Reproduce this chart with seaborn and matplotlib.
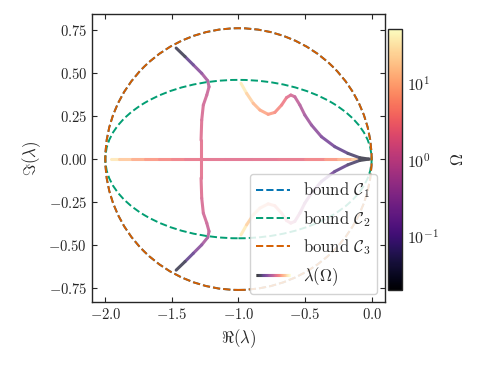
import numpy as np
import matplotlib
matplotlib.use("Agg")
import matplotlib.pyplot as plt
import seaborn as sns
from matplotlib.collections import LineCollection
from matplotlib.colors import LogNorm
from matplotlib.patches import Ellipse
from matplotlib.lines import Line2D
from matplotlib.legend_handler import HandlerBase

# eigenvalue branch leaving the real axis (upper half, conjugate below)
vert_re = [-1.281, -1.281, -1.276, -1.264, -1.238, -1.221, -1.231, -1.276, -1.339, -1.401, -1.468]
vert_im = [0.0, 0.110, 0.227, 0.314, 0.372, 0.420, 0.455, 0.498, 0.547, 0.595, 0.645]
vert_omega = [2.1, 1.9, 1.6, 1.35, 1.15, 0.95, 0.65, 0.35, 0.15, 0.06, 0.02]

# wavy branch ending at the origin (upper half, conjugate below)
arc_re = [-0.981, -0.939, -0.889, -0.839, -0.777, -0.727, -0.676, -0.639, -0.607, -0.577,
          -0.539, -0.502, -0.452, -0.377, -0.277, -0.178, -0.090, -0.020]
arc_im = [0.440, 0.382, 0.324, 0.285, 0.260, 0.271, 0.314, 0.357, 0.372, 0.362,
          0.314, 0.256, 0.198, 0.130, 0.072, 0.033, 0.008, 0.0]
arc_omega = [45, 25, 14, 9, 6.5, 5, 3.5, 2.3, 1.6, 1.1, 0.75, 0.5, 0.33, 0.2, 0.12, 0.07, 0.04, 0.022]

# real eigenvalues
realL_re = [-1.96, -1.90, -1.80, -1.70, -1.60, -1.50, -1.40, -1.281]
realL_omega = [45, 22, 11, 6.5, 4.5, 3.4, 2.7, 2.1]
realR_re = [-1.281, -1.10, -0.90, -0.70, -0.50, -0.35, -0.25, -0.15, -0.08, -0.01]
realR_omega = [2.1, 1.9, 1.9, 2.1, 2.6, 4, 7, 13, 22, 45]

# bounds: (centre, semi-axis re, semi-axis im)
bound_names = [r"bound $\mathcal{C}_1$", r"bound $\mathcal{C}_2$", r"bound $\mathcal{C}_3$"]
bound_center = [-1.0, -1.0, -1.0]
bound_a = [1.0, 1.0, 1.0]
bound_b = [0.76, 0.46, 0.76]

sns.set_style("ticks")
pal = sns.color_palette("colorblind")
bound_colors = [pal[0], pal[2], pal[3]]

plt.rcParams.update({
    "font.family": "serif",
    "font.serif": ["cmr10"],
    "mathtext.fontset": "cm",
    "axes.formatter.use_mathtext": True,
    "axes.unicode_minus": True,
    "font.size": 10.5,
    "xtick.direction": "in",
    "ytick.direction": "in",
    "xtick.top": True,
    "ytick.right": True,
    "axes.linewidth": 1.0,
})

cmap = plt.get_cmap("magma")
norm = LogNorm(vmin=0.02, vmax=50)
ALPHA = 0.7

fig = plt.figure(figsize=(4.85, 3.66), dpi=100)
ax = fig.add_axes([0.1897, 0.1749, 0.604, 0.787])
cax = fig.add_axes([0.800, 0.2077, 0.0289, 0.713])


def draw_branch(re, im, om):
    pts = np.column_stack([re, im]).reshape(-1, 1, 2)
    segs = np.concatenate([pts[:-1], pts[1:]], axis=1)
    om = np.asarray(om, float)
    c = np.sqrt(om[:-1] * om[1:])
    rgba = cmap(norm(c))
    # faded look without overlapping alpha at the joints
    rgba[:, :3] = ALPHA * rgba[:, :3] + (1 - ALPHA)
    lc = LineCollection(segs, colors=rgba, linewidths=2.2, capstyle="round", zorder=2)
    ax.add_collection(lc)


draw_branch(realL_re, np.zeros(len(realL_re)), realL_omega)
draw_branch(realR_re, np.zeros(len(realR_re)), realR_omega)
for re, im, om in [(vert_re, vert_im, vert_omega), (arc_re, arc_im, arc_omega)]:
    draw_branch(re, im, om)
    draw_branch(re, -np.asarray(im), om)

handles = []
for name, c0, a, b, col in zip(bound_names, bound_center, bound_a, bound_b, bound_colors):
    ax.add_patch(Ellipse((c0, 0), 2 * a, 2 * b, fill=False, ls="--", lw=1.4,
                         edgecolor=col, zorder=3))
    handles.append(Line2D([], [], color=col, ls="--", lw=1.4, label=name))


class GradientHandle:
    pass


class HandlerGradient(HandlerBase):
    def create_artists(self, legend, orig_handle, xdescent, ydescent, width, height,
                       fontsize, trans):
        xs = np.linspace(-xdescent, width - xdescent, 40)
        y = height / 2 - ydescent
        pts = np.column_stack([xs, np.full_like(xs, y)]).reshape(-1, 1, 2)
        segs = np.concatenate([pts[:-1], pts[1:]], axis=1)
        lc = LineCollection(segs, cmap=cmap, linewidths=2.2, transform=trans)
        lc.set_array(np.linspace(0, 1, len(segs)))
        return [lc]


grad = GradientHandle()
handles.append(grad)
labels = bound_names + [r"$\lambda(\Omega)$"]
leg = ax.legend(handles, labels, loc="lower right", handler_map={GradientHandle: HandlerGradient()},
                fontsize=12, framealpha=0.85, edgecolor="#cccccc", fancybox=True,
                borderaxespad=0.45)
leg.set_zorder(5)

ax.set_xlim(-2.1, 0.1)
ax.set_ylim(-0.83, 0.843)
ax.set_xticks([-2.0, -1.5, -1.0, -0.5, 0.0])
ax.set_yticks([-0.75, -0.5, -0.25, 0.0, 0.25, 0.5, 0.75])
ax.tick_params(labelsize=10.5)
ax.set_xlabel(r"$\Re(\lambda)$", fontsize=12)
ax.set_ylabel(r"$\Im(\lambda)$", fontsize=12)

sm = plt.cm.ScalarMappable(cmap=cmap, norm=norm)
cb = fig.colorbar(sm, cax=cax)
cb.set_label(r"$\Omega$", fontsize=12, labelpad=8)
cax.tick_params(which="both", direction="in", labelsize=11.5)

fig.savefig("out.png", dpi=100)
